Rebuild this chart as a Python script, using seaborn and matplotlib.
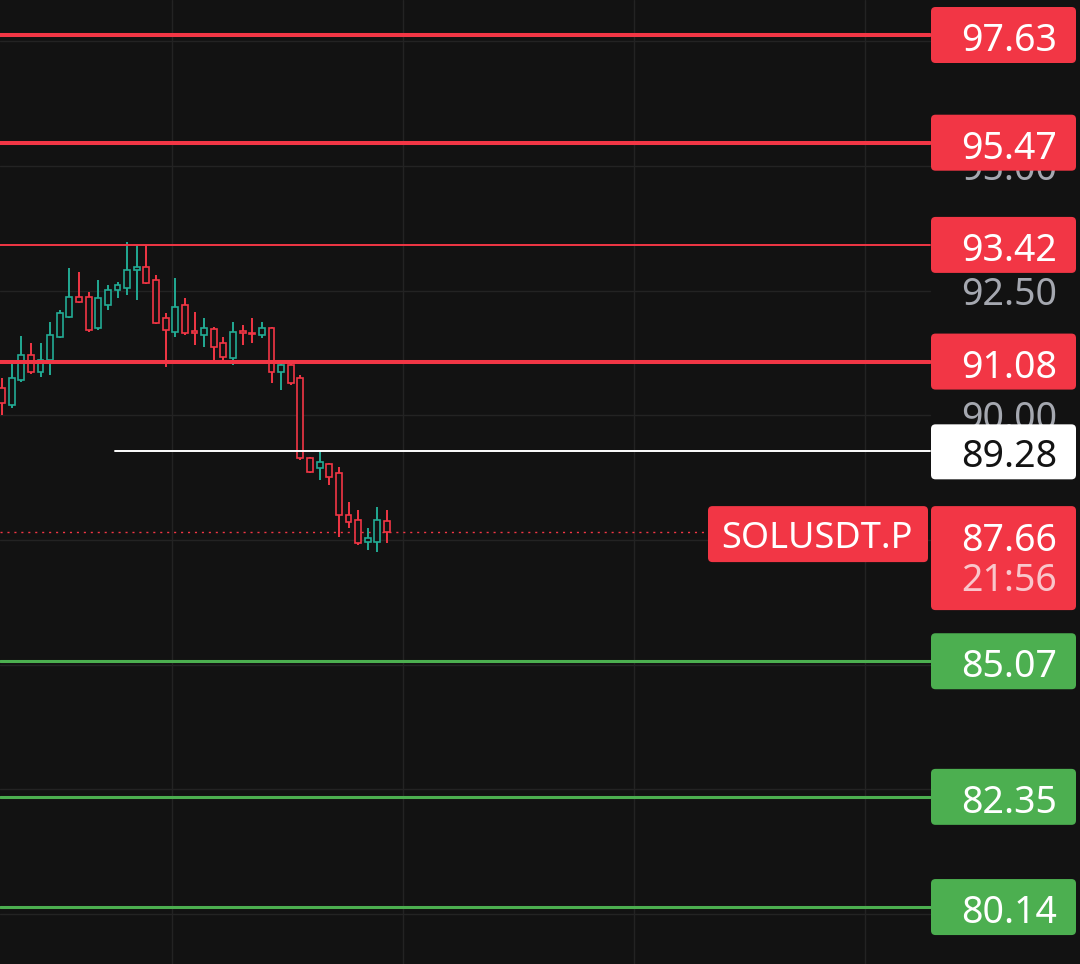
import matplotlib
matplotlib.use("Agg")
import matplotlib.pyplot as plt
from matplotlib.patches import FancyBboxPatch
import seaborn as sns
import numpy as np
import pandas as pd

# ---------------- data ----------------
opens  = [90.55, 90.21, 90.71, 91.21, 90.87, 91.11, 91.57, 91.97, 92.38, 92.38,
          91.75, 92.22, 92.52, 92.56, 92.92, 92.98, 92.72, 91.95, 91.67, 92.22,
          91.69, 91.61, 91.73, 91.45, 91.15, 91.69, 91.65, 91.61, 91.75, 90.87,
          91.01, 90.75, 89.15, 88.95, 89.03, 88.85, 88.00, 87.90, 87.46, 87.46,
          87.88]
highs  = [90.75, 91.11, 91.59, 91.45, 91.45, 91.87, 92.11, 92.96, 92.88, 92.48,
          92.72, 92.62, 92.68, 93.48, 93.42, 93.42, 92.82, 92.05, 92.76, 92.36,
          92.07, 91.95, 91.77, 91.57, 91.87, 91.81, 91.95, 91.87, 91.77, 91.07,
          91.05, 90.81, 89.17, 89.31, 89.05, 88.97, 88.26, 88.10, 87.74, 88.16,
          88.10]
lows   = [90.01, 90.15, 90.67, 90.83, 90.77, 90.81, 91.55, 91.95, 92.26, 91.67,
          91.71, 92.11, 92.36, 92.42, 92.32, 92.64, 91.83, 90.97, 91.57, 91.61,
          91.41, 91.37, 91.11, 91.11, 91.01, 91.41, 91.45, 91.55, 90.65, 90.51,
          90.61, 89.11, 88.85, 88.71, 88.61, 87.56, 87.74, 87.40, 87.30, 87.26,
          87.44]
closes = [90.25, 90.75, 91.21, 90.87, 91.11, 91.61, 92.05, 92.38, 92.28, 91.71,
          92.36, 92.52, 92.62, 92.92, 92.98, 92.66, 91.85, 91.71, 92.18, 91.65,
          91.65, 91.75, 91.37, 91.17, 91.67, 91.65, 91.63, 91.75, 90.87, 91.01,
          90.65, 89.15, 88.87, 89.07, 88.77, 88.00, 87.86, 87.44, 87.54, 87.90,
          87.66]

resistance_levels = [97.63, 95.47, 93.42, 91.08]
support_levels = [85.07, 82.35, 80.14]
pivot_level = 89.28
last_price = 87.66
symbol = "SOLUSDT.P"
countdown = "21:56"
axis_ticks = [97.5, 95.0, 92.5, 90.0, 87.5, 85.0, 82.5, 80.0]
time_grid = [17.66, 41.66, 65.66, 89.66]

# ---------------- style ----------------
BG = "#121212"
GRID = "#232323"
RED = "#F23645"
GREEN_LVL = "#4CAF50"
UP = "#22AB94"
DOWN = "#F23645"

sns.set_theme(style="dark", rc={"axes.facecolor": BG, "figure.facecolor": BG})
plt.rcParams["font.family"] = ["Noto Sans", "DejaVu Sans"]

df = pd.DataFrame({"o": opens, "h": highs, "l": lows, "c": closes})
df["i"] = np.arange(len(df))
df["up"] = df["c"] >= df["o"]

W, H = 1080, 964
fig = plt.figure(figsize=(W / 100, H / 100), dpi=100)
ax = fig.add_axes([0, 0, 1, 1])
ax.set_facecolor(BG)

# pixel mapping helpers
spacing = 9.625          # px per candle
x0px = 2.0               # pixel of candle 0
ppu = 49.86              # px per price unit
y_top = resistance_levels[0] + 35 / ppu
y_bot = y_top - H / ppu
ax.set_xlim(-x0px / spacing, (W - x0px) / spacing)
ax.set_ylim(y_bot, y_top)
ax.axis("off")

def px_x(p):
    return (p - x0px) / spacing

def dpy(p):
    return p / ppu

plot_right = px_x(930)

# grid
for t in axis_ticks:
    ax.plot([ax.get_xlim()[0], plot_right], [t, t], color=GRID, lw=1.0, zorder=0)
for g in time_grid:
    ax.axvline(g, color=GRID, lw=1.0, zorder=0)

# axis tick labels: only those not fully covered by a level tag
all_tags = resistance_levels + support_levels + [pivot_level, last_price, last_price - dpy(46)]
for t in axis_ticks:
    if min(abs(t - v) for v in all_tags) * ppu < 15:
        continue
    ax.text(px_x(1057), t - dpy(14), f"{t:.2f}", ha="right", va="baseline",
            color="#a5a8b0", fontsize=27, zorder=2)

# candles
colors = np.where(df["up"], UP, DOWN)
ax.vlines(df["i"], df["l"], df["h"], colors=colors, lw=1.4, zorder=3)
body_lo = np.minimum(df["o"], df["c"])
body_h = np.maximum(np.abs(df["c"] - df["o"]), 0.01)
ax.bar(df["i"], body_h, bottom=body_lo, width=0.62, color=BG,
       edgecolor=colors, linewidth=1.2, zorder=4)

# level lines
res_lw = [2.9, 2.9, 1.4, 2.9]
for lvl, lw in zip(resistance_levels, res_lw):
    ax.plot([ax.get_xlim()[0], plot_right], [lvl, lvl], color=RED, lw=lw, zorder=5)
for lvl in support_levels:
    ax.plot([ax.get_xlim()[0], plot_right], [lvl, lvl], color=GREEN_LVL, lw=2.2, zorder=5)
ax.plot([px_x(115), plot_right], [pivot_level, pivot_level], color="white", lw=1.4, zorder=5)
ax.plot([ax.get_xlim()[0], px_x(708)], [last_price, last_price], color=RED, lw=1.0,
        ls=(0, (1.5, 3.5)), zorder=2)

asp = spacing / ppu
rr = 4.5 / spacing

def tag(xl_px, xr_px, ytop_px_off, ybot_px_off, yc, fc):
    x0 = px_x(xl_px)
    w = px_x(xr_px) - x0
    y0 = yc - dpy(ybot_px_off)
    h = dpy(ytop_px_off + ybot_px_off)
    p = FancyBboxPatch((x0, y0), w, h,
                       boxstyle=f"round,pad=0,rounding_size={rr}",
                       mutation_aspect=asp, fc=fc, ec="none", zorder=6)
    ax.add_patch(p)

def tag_text(s, yc, color, off=2, x_px=1057, ha="right", weight="medium", size=27):
    ax.text(px_x(x_px), yc - dpy(14 + off), s, ha=ha, va="baseline", color=color,
            fontsize=size, fontweight=weight, zorder=7)

for lvl in resistance_levels:
    tag(931, 1076, 28, 28, lvl, RED)
    tag_text(f"{lvl:.2f}", lvl, "white")
for lvl in support_levels:
    tag(931, 1076, 28, 28, lvl, GREEN_LVL)
    tag_text(f"{lvl:.2f}", lvl, "white")

tag(931, 1076, 27, 28, pivot_level, "white")
tag_text(f"{pivot_level:.2f}", pivot_level, "#131313")

# last price tag with countdown
tag(931, 1076, 26, 78, last_price, RED)
tag_text(f"{last_price:.2f}", last_price, "white", off=5)
tag_text(countdown, last_price, "#f9c6cb", off=45)
tag(708, 928, 26, 30, last_price, RED)
tag_text(symbol, last_price, "white", off=2, x_px=817, ha="center", weight="semibold", size=26)

fig.savefig("out.png", dpi=100, facecolor=BG)
